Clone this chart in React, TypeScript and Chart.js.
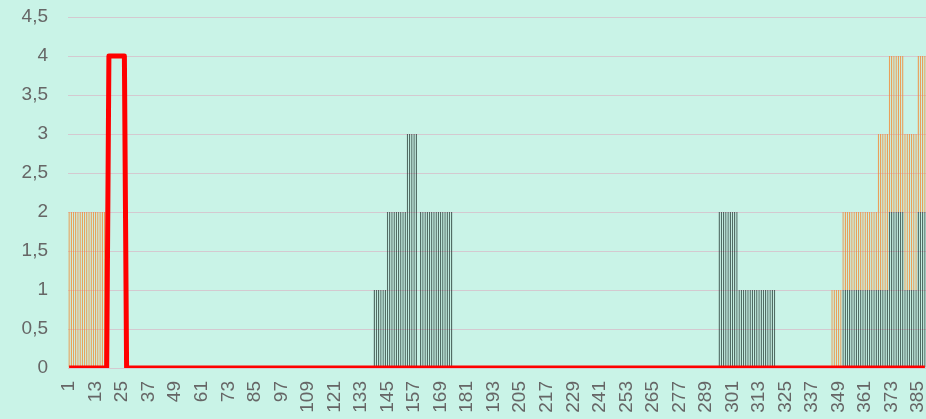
import React, { useEffect, useRef } from "react";
import { Chart, registerables } from "chart.js";

Chart.register(...registerables);

// Category count and labels (1..388)
const CATEGORY_COUNT = 388;
const categories: string[] = Array.from({ length: CATEGORY_COUNT }, (_, i) => String(i + 1));

// Values: [firstCategory, lastCategory, value]
const darkRuns: [number, number, number][] = [
  [139, 144, 1],
  [145, 153, 2],
  [154, 158, 3],
  [160, 174, 2],
  [295, 303, 2],
  [304, 320, 1],
  [351, 371, 1],
  [372, 378, 2],
  [379, 384, 1],
  [385, 388, 2],
];

// orange sits stacked on top of the dark series
const orangeRuns: [number, number, number][] = [
  [1, 17, 2],
  [346, 350, 1],
  [351, 366, 1],
  [367, 371, 2],
  [372, 378, 2],
  [379, 384, 2],
  [385, 388, 2],
];

const redRuns: [number, number, number][] = [[19, 26, 4]];

const yTickValues = [0, 0.5, 1, 1.5, 2, 2.5, 3, 3.5, 4, 4.5];

function expand(runs: [number, number, number][]): number[] {
  const out: number[] = new Array(CATEGORY_COUNT).fill(0);
  for (const [a, b, v] of runs) {
    for (let c = a; c <= b; c++) out[c - 1] = v;
  }
  return out;
}

const darkValues = expand(darkRuns);
const orangeValues = expand(orangeRuns);
const redValues = expand(redRuns);

export default function App() {
  const ref = useRef<HTMLCanvasElement | null>(null);

  useEffect(() => {
    if (!ref.current) return;
    const font = { family: "'Liberation Sans', Arial, sans-serif", size: 19 };
    const chart = new Chart(ref.current, {
      type: "bar",
      data: {
        labels: categories,
        datasets: [
          {
            type: "line",
            label: "red",
            data: redValues,
            borderColor: "#ff0000",
            backgroundColor: "#ff0000",
            borderWidth: 5,
            pointRadius: 0,
            tension: 0,
            borderJoinStyle: "round",
            stack: "line",
            order: 0,
          } as any,
          {
            label: "dark",
            data: darkValues,
            backgroundColor: "rgba(80,110,100,0.25)",
            borderColor: "rgba(35,55,50,0.72)",
            borderWidth: 1,
            stack: "bars",
            order: 1,
            barPercentage: 0.8,
            categoryPercentage: 0.8,
          },
          {
            label: "orange",
            data: orangeValues,
            backgroundColor: "rgba(240,165,90,0.25)",
            borderColor: "rgba(238,145,65,0.85)",
            borderWidth: 1,
            stack: "bars",
            order: 2,
            barPercentage: 0.8,
            categoryPercentage: 0.8,
          },
        ],
      },
      options: {
        animation: false,
        responsive: false,
        maintainAspectRatio: false,
        layout: { padding: { left: 0, right: 0, top: 17, bottom: 0 } },
        plugins: {
          legend: { display: false },
          tooltip: { enabled: false },
        },
        scales: {
          x: {
            stacked: true,
            grid: { display: false, drawTicks: false },
            border: { display: false },
            afterFit: (axis: any) => {
              axis.height = 51;
              axis.paddingLeft = 0;
              axis.paddingRight = 0;
            },
            ticks: {
              autoSkip: false,
              minRotation: 90,
              maxRotation: 90,
              color: "#666666",
              font,
              padding: 13,
              callback: (_v: any, i: number) => (i % 12 === 0 ? categories[i] : ""),
            },
          },
          y: {
            stacked: true,
            min: 0,
            max: 4.5,
            afterBuildTicks: (axis: any) => {
              axis.ticks = yTickValues.map((v) => ({ value: v }));
            },
            afterFit: (axis: any) => {
              axis.width = 68;
              axis.paddingTop = 0;
              axis.paddingBottom = 0;
            },
            grid: { color: "#d4c9d0", drawTicks: false, lineWidth: 1 },
            border: { display: false },
            ticks: {
              color: "#666666",
              font,
              padding: 20,
              callback: (v: any) => String(v).replace(".", ","),
            },
          },
        },
      },
    });
    return () => chart.destroy();
  }, []);

  return (
    <div
      style={{
        position: "fixed",
        left: 0,
        top: 0,
        width: 926,
        height: 419,
        background: "#c9f3e7",
      }}
    >
      <canvas ref={ref} width={926} height={419} style={{ display: "block" }} />
    </div>
  );
}
